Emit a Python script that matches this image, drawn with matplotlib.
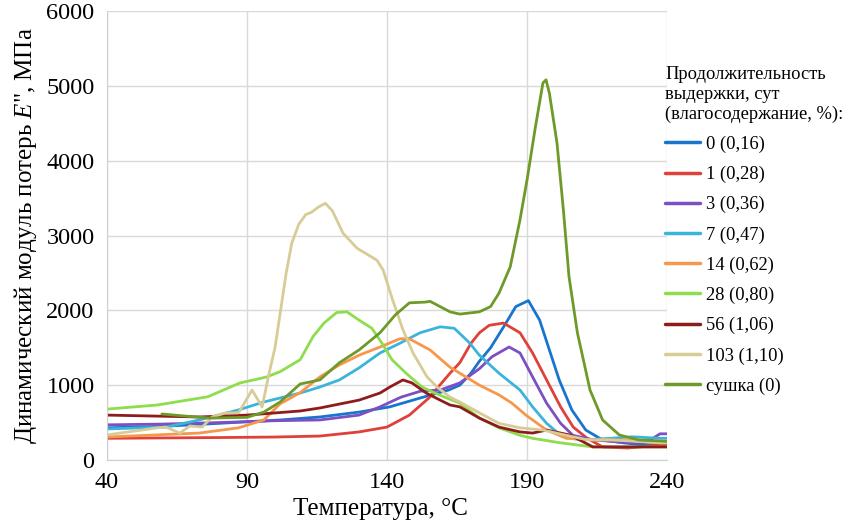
import matplotlib.pyplot as plt

plt.rcParams['font.family'] = ['Liberation Serif', 'DejaVu Serif']
plt.rcParams['mathtext.fontset'] = 'custom'
plt.rcParams['mathtext.it'] = 'Liberation Serif:italic'
plt.rcParams['mathtext.rm'] = 'Liberation Serif'

# Температура, °C и модуль потерь E'', МПа для каждого образца
t_0 = [40, 60, 80, 102, 116, 130, 141, 152, 162, 166, 170, 173, 177, 182, 186, 190.5,
       194.5, 198, 201.5, 206, 211, 217, 225, 232, 240]
e_0 = [430, 450, 490, 535, 575, 640, 710, 830, 935, 1000, 1160, 1320, 1500, 1800, 2050, 2130,
       1870, 1470, 1070, 670, 400, 267, 227, 200, 230]

t_1 = [40, 60, 80, 100, 116, 130, 140, 148, 155, 162.5, 166, 170, 173, 176.5, 181.6, 187.5,
       192, 197, 202, 206.5, 211.5, 217, 226, 237.5, 240]
e_1 = [290, 295, 300, 307, 320, 375, 440, 600, 830, 1160, 1300, 1560, 1700, 1800, 1830, 1700,
       1430, 1070, 710, 440, 290, 175, 160, 200, 200]

t_3 = [40, 60, 80, 100, 116, 130, 137.5, 145, 152, 159, 166, 173, 177.5, 183.6, 187.5, 192,
       197, 202, 206.4, 213.5, 223, 232.5, 237.5, 240]
e_3 = [470, 480, 500, 525, 535, 600, 710, 840, 920, 935, 1030, 1220, 1380, 1510, 1430, 1110,
       760, 490, 330, 270, 240, 230, 350, 350]

t_7 = [40, 61, 73, 87, 96, 109, 116, 123, 130, 137.5, 144.6, 151.8, 159, 164, 166, 169.6,
       173, 180, 187.5, 192, 197, 202, 209, 220, 227.5, 237.5, 240]
e_7 = [415, 440, 535, 670, 775, 895, 975, 1070, 1230, 1430, 1560, 1700, 1780, 1760, 1690, 1560,
       1400, 1160, 935, 710, 490, 330, 267, 290, 310, 290, 290]

t_14 = [40, 73, 87, 96, 101.8, 109, 116, 123, 130, 137.5, 144.6, 148, 155.4, 162.5, 166, 173,
        180, 184.6, 189.6, 197, 204, 213.5, 225.7, 237.5, 240]
e_14 = [307, 360, 430, 535, 750, 900, 1110, 1270, 1400, 1510, 1620, 1620, 1470, 1240, 1160, 1000,
        870, 760, 600, 400, 290, 267, 267, 230, 230]

t_28 = [40, 58, 76, 87.5, 93.6, 97, 101.8, 109, 113.6, 117.5, 122, 125.7, 130, 134.6, 138.2,
        141.8, 146.8, 152.5, 158.6, 166, 173, 180, 187.5, 192, 201.8, 213.5, 240]
e_28 = [680, 735, 845, 1030, 1080, 1110, 1180, 1340, 1650, 1830, 1970, 1980, 1870, 1760, 1560,
        1340, 1160, 975, 870, 760, 560, 430, 330, 290, 230, 175, 175]

t_56 = [40, 73, 90, 109, 116, 130, 137.5, 141, 145.7, 148.9, 154, 159, 162.5, 166, 173, 180,
        187.5, 192, 197, 205.7, 213.5, 223, 240]
e_56 = [600, 575, 600, 655, 695, 800, 895, 975, 1070, 1030, 895, 800, 735, 710, 560, 440,
        375, 360, 400, 330, 175, 175, 175]

t_103 = [40, 58, 61, 66, 69.6, 74, 77.5, 82.5, 87, 91.8, 95.4, 97.9, 100, 102, 104, 106, 108.5,
         111, 113, 115.5, 118, 120.5, 124.3, 129.3, 136.4, 138.6, 142, 145.7, 149.3, 154.3,
         157.9, 162.5, 166, 173, 180, 187.5, 195.7, 204, 211.4, 219.6, 237.5, 240]
e_103 = [335, 430, 440, 360, 455, 440, 575, 630, 630, 935, 710, 1160, 1500, 2000, 2500, 2900, 3150,
         3280, 3310, 3380, 3430, 3330, 3030, 2830, 2670, 2540, 2140, 1740, 1430, 1110,
         975, 840, 775, 630, 490, 430, 400, 330, 270, 270, 230, 230]

t_dry = [59.6, 70, 77, 90, 96, 101.8, 109, 116, 123, 130, 137.5, 143, 148, 153.6, 155.4, 162.5,
         166, 173, 177, 180, 184, 187.5, 190, 193, 195.7, 196.8, 198, 200.7, 203, 205, 208,
         212.5, 217, 223, 230, 240]
e_dry = [615, 580, 560, 570, 640, 775, 1016, 1070, 1300, 1470, 1700, 1940, 2100, 2110, 2120, 1980,
         1950, 1980, 2050, 2230, 2580, 3210, 3740, 4450, 5040, 5080, 4900, 4240, 3340, 2450, 1700,
         936, 535, 334, 267, 250]

series = [
    (t_0, e_0, '0 (0,16)', '#1874CD'),
    (t_1, e_1, '1 (0,28)', '#E0403A'),
    (t_3, e_3, '3 (0,36)', '#7D4FC4'),
    (t_7, e_7, '7 (0,47)', '#3BB4DC'),
    (t_14, e_14, '14 (0,62)', '#F7974C'),
    (t_28, e_28, '28 (0,80)', '#8EDD4C'),
    (t_56, e_56, '56 (1,06)', '#8E1C1C'),
    (t_103, e_103, '103 (1,10)', '#D8CC96'),
    (t_dry, e_dry, 'сушка (0)', '#6E9A2A'),
]

fig = plt.figure(figsize=(8.48, 5.24), dpi=100)
ax = fig.add_axes([107 / 848, 1 - 460 / 524, 560 / 848, 449 / 524])

for t, e, name, color in series:
    ax.plot(t, e, color=color, lw=2.0, label=name, solid_capstyle='round')

ax.set_xlim(40, 240)
ax.set_ylim(0, 6000)
ax.set_xticks([40, 90, 140, 190, 240])
ax.set_yticks(range(0, 6001, 1000))
ax.grid(True, color='#D9D9D9', lw=1.0)
ax.set_axisbelow(True)
ax.tick_params(length=0, labelsize=17.5, pad=9)
for side in ['top', 'right']:
    ax.spines[side].set_visible(False)
for side in ['left', 'bottom']:
    ax.spines[side].set_color('#D0D0D0')

ax.set_xlabel('Температура, °C', fontsize=18)
ax.xaxis.set_label_coords(0.489, -0.085)
ax.set_ylabel('Динамический модуль потерь $E$", МПа', fontsize=18, labelpad=5)

leg = fig.legend(loc='upper left', bbox_to_anchor=(665 / 848, 1 - 66 / 524),
                 bbox_transform=fig.transFigure, frameon=False, fontsize=13.3,
                 title='Продолжительность\nвыдержки, сут\n(влагосодержание, %):',
                 title_fontsize=13.3, alignment='left', handlelength=1.9,
                 handletextpad=0.3, labelspacing=0.7, borderpad=0, borderaxespad=0)
for line in leg.get_lines():
    line.set_linewidth(2.5)

fig.savefig('out.png', dpi=100)
